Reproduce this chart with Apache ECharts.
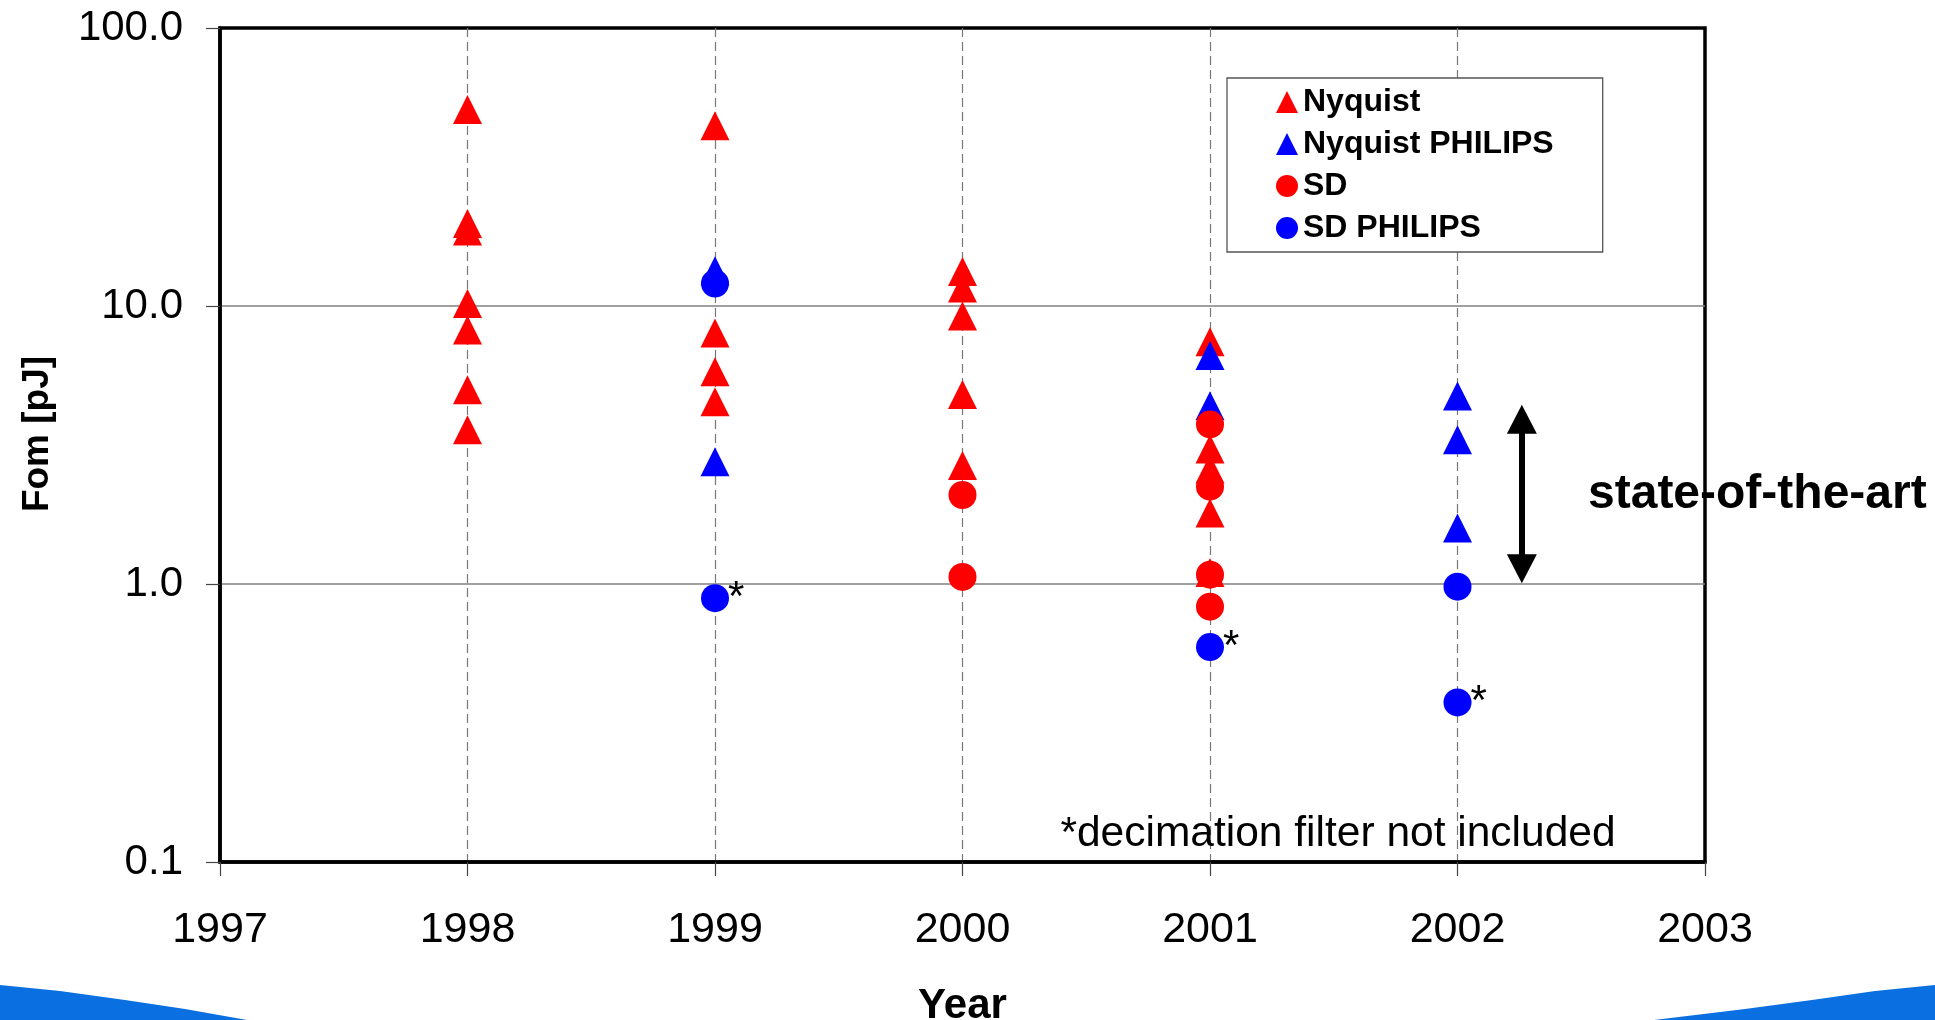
<!DOCTYPE html>
<html>
<head>
<meta charset="utf-8">
<script src="https://cdn.jsdelivr.net/npm/echarts@6/dist/echarts.min.js"></script>
<style>
  html, body { margin: 0; padding: 0; background: #fff; }
  #chart { width: 1935px; height: 1020px; }
</style>
</head>
<body>
<div id="chart"></div>
<script>
// ---- data ----
const seriesNames = ['Nyquist', 'Nyquist PHILIPS', 'SD', 'SD PHILIPS'];

const nyquistYear = [1998, 1998, 1998, 1998, 1998, 1998, 1998, 1999, 1999, 1999, 1999, 2000, 2000, 2000, 2000, 2000, 2001, 2001, 2001, 2001, 2001];
const nyquistFom  = [50.9, 19.8, 18.6, 10.2, 8.2, 5.0, 3.59, 44.5, 8.0, 5.8, 4.52, 13.3, 11.6, 9.2, 4.8, 2.67, 7.44, 3.06, 2.59, 1.80, 1.10];

const nyquistPhilipsYear = [1999, 1999, 2001, 2001, 2002, 2002, 2002];
const nyquistPhilipsFom  = [13.4, 2.75, 6.64, 4.38, 4.75, 3.30, 1.59];

const sdYear = [2000, 2000, 2001, 2001, 2001, 2001];
const sdFom  = [2.09, 1.06, 3.75, 2.24, 1.08, 0.829];

const sdPhilipsYear = [1999, 1999, 2001, 2002, 2002];
const sdPhilipsFom  = [12.05, 0.889, 0.593, 0.978, 0.375];
const sdPhilipsNote = ['', '*', '*', '', '*'];

const xTickYears = [1997, 1998, 1999, 2000, 2001, 2002, 2003];
const yTickValues = [0.1, 1, 10, 100];

// "state-of-the-art" arrow (data coordinates: x, arrow-head centres)
const arrowX = [2002.26];
const arrowY = [3.91, 1.134];

const FONT = '"Liberation Sans", Arial, sans-serif';
const RED = '#FF0000';
const BLUE = '#0000FF';

function pairs(xs, ys) { return xs.map((x, i) => [x, ys[i]]); }

const chart = echarts.init(document.getElementById('chart'), null, { renderer: 'canvas' });

const option = {
  animation: false,
  backgroundColor: '#ffffff',
  textStyle: { fontFamily: FONT },
  grid: {
    left: 220, top: 28, width: 1485, height: 834,
    containLabel: false, outerBoundsMode: 'none',
    show: true, borderColor: '#000', borderWidth: 3.5, backgroundColor: 'transparent'
  },
  legend: {
    data: seriesNames,
    orient: 'vertical',
    left: 1227, top: 78,
    padding: [8, 49, 8, 49],
    itemWidth: 22, itemHeight: 22, itemGap: 10,
    backgroundColor: '#fff',
    borderColor: '#555', borderWidth: 1.3, borderRadius: 0,
    textStyle: { fontFamily: FONT, fontSize: 32, fontWeight: 'bold', color: '#000', lineHeight: 32 }
  },
  xAxis: {
    type: 'value',
    min: xTickYears[0], max: xTickYears[xTickYears.length - 1], interval: 1,
    name: 'Year', nameLocation: 'middle', nameGap: 123,
    nameTextStyle: { fontFamily: FONT, fontSize: 42, fontWeight: 'bold', color: '#000' },
    axisLine: { show: true, onZero: false, lineStyle: { color: '#000', width: 3.5 } },
    axisTick: { show: true, length: 14, lineStyle: { color: '#444', width: 1.2 } },
    axisLabel: { fontFamily: FONT, fontSize: 43, color: '#000', margin: 47, formatter: v => String(v) },
    splitLine: { show: true, showMinLine: false, showMaxLine: false, lineStyle: { color: '#777', width: 1.2, type: [9, 5] } }
  },
  yAxis: {
    type: 'log', logBase: 10,
    min: yTickValues[0], max: yTickValues[yTickValues.length - 1],
    name: 'Fom [pJ]', nameLocation: 'middle', nameGap: 164, nameRotate: 90,
    nameTextStyle: { fontFamily: FONT, fontSize: 37, fontWeight: 'bold', color: '#000', padding: [0, 0, 0, 22] },
    axisLine: { show: true, lineStyle: { color: '#000', width: 3.5 } },
    axisTick: { show: true, length: 14, lineStyle: { color: '#444', width: 1.2 } },
    axisLabel: { fontFamily: FONT, fontSize: 42, color: '#000', margin: 37, formatter: v => Number(v).toFixed(1) },
    splitLine: { show: true, showMinLine: false, showMaxLine: false, lineStyle: { color: '#808080', width: 1.5, type: 'solid' } }
  },
  series: [
    {
      name: seriesNames[0], type: 'scatter', symbol: 'triangle', symbolSize: [29, 29],
      itemStyle: { color: RED, opacity: 1 },
      data: pairs(nyquistYear, nyquistFom)
    },
    {
      name: seriesNames[1], type: 'scatter', symbol: 'triangle', symbolSize: [29, 29],
      itemStyle: { color: BLUE, opacity: 1 },
      data: pairs(nyquistPhilipsYear, nyquistPhilipsFom)
    },
    {
      name: seriesNames[2], type: 'scatter', symbol: 'circle', symbolSize: 28,
      itemStyle: { color: RED, opacity: 1 },
      data: pairs(sdYear, sdFom)
    },
    {
      name: seriesNames[3], type: 'scatter', symbol: 'circle', symbolSize: 28,
      itemStyle: { color: BLUE, opacity: 1 },
      data: pairs(sdPhilipsYear, sdPhilipsFom),
      label: {
        show: true, position: 'right', distance: 0, offset: [-1, 0],
        formatter: p => sdPhilipsNote[p.dataIndex],
        fontFamily: FONT, fontSize: 42, color: '#000'
      },
      markLine: {
        silent: true,
        symbol: ['triangle', 'triangle'],
        symbolSize: [30, 29],
        label: { show: false },
        lineStyle: { color: '#000', width: 6, type: 'solid' },
        emphasis: { disabled: true },
        data: [[
          { coord: [arrowX[0], arrowY[0]], itemStyle: { color: '#000' } },
          { coord: [arrowX[0], arrowY[1]], itemStyle: { color: '#000' } }
        ]]
      }
    }
  ],
  graphic: [
    {
      type: 'text', x: 1588, y: 495, z: 100,
      style: { text: 'state-of-the-art', font: 'bold 48px ' + FONT, fill: '#000', align: 'left', verticalAlign: 'middle' }
    },
    {
      type: 'text', x: 1338, y: 834, z: 100,
      style: { text: '*decimation filter not included', font: '42.5px ' + FONT, fill: '#000', align: 'center', verticalAlign: 'middle' }
    },
    {
      type: 'polygon', z: 0,
      shape: { points: [[0, 985], [60, 991], [125, 1000], [185, 1009], [247, 1020], [0, 1020]] },
      style: { fill: '#0A6FE0' }
    },
    {
      type: 'polygon', z: 0,
      shape: { points: [[1935, 985], [1875, 991], [1812, 1000], [1745, 1009], [1654, 1020], [1935, 1020]] },
      style: { fill: '#0A6FE0' }
    }
  ]
};

chart.setOption(option);
</script>
</body>
</html>
